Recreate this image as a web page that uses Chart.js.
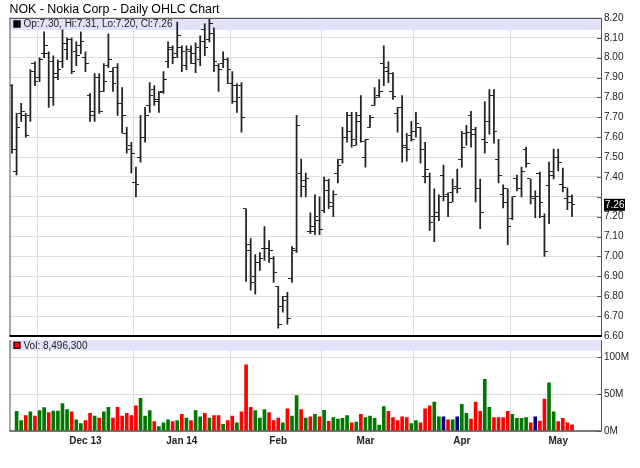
<!DOCTYPE html>
<html><head><meta charset="utf-8">
<script src="https://cdn.jsdelivr.net/npm/chart.js@4.4.1/dist/chart.umd.min.js"></script>
<style>
html,body{margin:0;padding:0;background:#fff;}
#wrap{position:relative;width:640px;height:468px;overflow:hidden;}
#pc{position:absolute;left:0;top:0;}
#vc{position:absolute;left:0;top:340px;}
</style></head><body>
<div id="wrap"><canvas id="pc" width="640" height="340"></canvas><canvas id="vc" width="640" height="128"></canvas></div>
<script>
// ---- data (trading days, Nov 7 2013 .. May 6 2014) ----
const opens  = [7.86,7.43,7.72,7.71,7.71,7.97,7.90,8.02,8.02,7.98,7.92,7.98,8.04,8.09,8.03,8.06,8.00,7.81,7.71,7.90,7.83,7.96,7.93,7.95,7.77,7.62,7.56,7.37,7.50,7.60,7.76,7.84,
  7.78,7.83,7.98,8.04,8.02,8.05,7.96,8.03,7.97,7.99,8.14,8.09,8.12,7.96,7.97,7.99,7.87,7.86,7.86,7.24,7.06,6.90,6.97,7.04,7.04,6.99,6.85,6.75,6.80,6.89,7.03,7.42,
  7.35,7.125,7.125,7.18,7.23,7.38,7.25,7.42,7.49,7.60,7.71,7.56,7.71,7.50,7.65,7.76,7.81,7.97,7.93,7.83,7.72,7.75,7.55,7.61,7.63,7.65,7.40,7.40,7.20,7.20,7.41,7.31,
  7.32,7.35,7.49,7.62,7.71,7.64,7.34,7.59,7.68,7.81,7.49,7.31,7.27,7.19,7.39,7.34,7.54,7.39,7.29,7.42,7.20,7.355,7.41,7.50,7.36,7.29,7.30];
const highs  = [7.865,7.72,7.77,7.72,7.94,7.98,8.00,8.13,8.03,8.01,7.99,8.14,8.10,8.10,8.08,8.13,8.03,7.82,7.92,7.92,7.97,8.12,7.95,7.97,7.85,7.65,7.575,7.45,7.71,7.75,7.875,7.86,
  7.83,7.93,8.08,8.06,8.18,8.06,8.06,8.06,8.075,8.11,8.17,8.20,8.15,7.97,8.03,8.00,7.93,7.87,7.875,7.24,7.09,7.01,7.02,7.15,7.08,7.00,6.85,6.80,6.82,7.05,7.71,7.49,
  7.42,7.22,7.31,7.30,7.40,7.39,7.33,7.49,7.65,7.725,7.725,7.725,7.81,7.59,7.71,7.85,7.89,8.06,7.98,7.925,7.75,7.81,7.62,7.68,7.725,7.65,7.575,7.42,7.34,7.31,7.46,7.32,
  7.39,7.44,7.63,7.66,7.73,7.65,7.39,7.78,7.84,7.84,7.59,7.36,7.34,7.30,7.41,7.45,7.55,7.39,7.33,7.425,7.215,7.475,7.54,7.54,7.445,7.345,7.31];
const lows   = [7.52,7.41,7.68,7.60,7.68,7.86,7.88,8.00,7.75,7.76,7.89,7.95,7.99,7.92,7.96,8.02,7.93,7.68,7.68,7.72,7.83,7.95,7.83,7.71,7.62,7.52,7.42,7.30,7.475,7.575,7.725,7.76,
  7.725,7.82,7.95,7.97,8.00,7.93,7.94,7.97,7.925,7.96,8.01,8.08,7.93,7.83,7.95,7.87,7.77,7.725,7.625,6.875,6.83,6.81,6.93,6.98,6.97,6.87,6.64,6.72,6.66,6.87,7.02,7.30,
  7.30,7.115,7.11,7.11,7.22,7.24,7.20,7.37,7.47,7.575,7.55,7.56,7.575,7.45,7.65,7.76,7.80,7.86,7.875,7.79,7.625,7.475,7.48,7.58,7.60,7.47,7.37,7.13,7.075,7.18,7.28,7.20,
  7.275,7.32,7.45,7.56,7.55,7.275,7.14,7.52,7.615,7.57,7.37,7.245,7.06,7.185,7.33,7.30,7.45,7.265,7.195,7.195,7.00,7.165,7.39,7.43,7.325,7.235,7.20];
const closes = [7.54,7.65,7.73,7.61,7.93,7.88,7.99,8.06,7.80,7.90,7.94,8.07,8.09,7.93,8.01,8.08,7.97,7.73,7.90,7.73,7.88,7.99,7.87,7.77,7.71,7.54,7.52,7.36,7.60,7.71,7.81,7.79,
  7.825,7.89,8.05,8.00,8.11,8.03,8.04,8.02,8.05,8.08,8.05,8.17,7.98,7.94,7.99,7.94,7.78,7.80,7.70,7.03,6.87,6.97,6.99,7.04,7.03,6.92,6.66,6.78,6.69,7.04,7.66,7.38,
  7.39,7.15,7.20,7.135,7.33,7.27,7.31,7.46,7.60,7.63,7.59,7.68,7.58,7.59,7.70,7.80,7.83,7.95,7.92,7.805,7.75,7.56,7.54,7.59,7.67,7.54,7.44,7.17,7.22,7.30,7.30,7.27,
  7.34,7.34,7.55,7.625,7.615,7.34,7.22,7.575,7.81,7.63,7.41,7.34,7.15,7.30,7.34,7.43,7.47,7.30,7.30,7.27,7.025,7.43,7.50,7.475,7.345,7.27,7.26];
// volume in millions of shares
const volumes = [null,26.6,14,21,26,20,27.5,31.5,25,27,27,37,29,26,15,10,14,24,20,17.5,26,32,17.5,32,20,24,21,34,44,20,27.5,12.6,
  6,11,15,12.6,14,22.5,17.5,14,27.5,19,24,17.5,21,21,9,14,20,11,26,89.6,32,27.5,17.5,29,25,14,17.5,11,30,20,48,29,
  17.5,19,22.5,19,28,13,18,16,17,21,11,12,22.5,18,20,17,8,33,26.5,18,14,19,18,10,14,11,30,34,39,19,19,15,
  15,19,36,24,16,39,26.5,70,32,18,18,18,26.5,22.5,17,17,18,11,19,13.5,43,65,26,12.6,17,11,8.4963];
// x-axis month ticks (bar index of first trading day) and labels
const monthTicks  = [16, 37, 58, 77, 98, 119];
const monthLabels = ['Dec 13', 'Jan 14', 'Feb', 'Mar', 'Apr', 'May'];
const priceTicks  = [6.6,6.7,6.8,6.9,7.0,7.1,7.2,7.3,7.4,7.5,7.6,7.7,7.8,7.9,8.0,8.1,8.2];
const volTicks    = [0, 50, 100];
const titleText   = 'NOK - Nokia Corp - Daily OHLC Chart';

// ---- styles ----
const FONT = "'Liberation Sans', Arial, Helvetica, sans-serif";
const BAND = '#e2e2fa';
const GRID = '#dddddd';
const AXIS = '#555555';
const GREEN = '#007800', RED = '#ff0000', BLUE = '#000080';
const XMIN = -0.545, XMAX = 128.32;

const idx = closes.map((_, i) => i);
const last = closes.length - 1;
const f2 = v => v.toFixed(2);
const volColors = idx.map(i => {
  if (i === 0) return RED;
  const d = Math.round(closes[i] * 1000) - Math.round(closes[i - 1] * 1000);
  return d > 0 ? GREEN : (d < 0 ? RED : BLUE);
});

function tickImg(side) {
  const c = document.createElement('canvas');
  c.width = 7; c.height = 1;
  const g = c.getContext('2d');
  g.fillStyle = '#222';
  if (side === 'L') g.fillRect(0, 0, 3, 1); else g.fillRect(4, 0, 3, 1);
  return c;
}

const panelPlugin = {
  id: 'panel',
  beforeDatasetsDraw(chart, args, o) {
    const a = chart.chartArea, ctx = chart.ctx;
    ctx.save();
    ctx.fillStyle = BAND;
    ctx.fillRect(a.left, a.top, a.right - a.left, o.bandH);
    ctx.restore();
  },
  afterDatasetsDraw(chart, args, o) {
    const a = chart.chartArea, ctx = chart.ctx;
    ctx.save();
    const cy = a.top + o.bandH / 2;
    ctx.fillStyle = o.marker;
    ctx.fillRect(a.left + 4, cy - 3.5, 7, 7);
    ctx.strokeStyle = '#000'; ctx.lineWidth = 1;
    ctx.strokeRect(a.left + 4.5, cy - 3, 6, 6);
    ctx.fillStyle = '#222';
    ctx.font = '10px ' + FONT;
    ctx.textBaseline = 'middle';
    ctx.textAlign = 'left';
    ctx.fillText(o.text, a.left + 14, cy + 0.5);
    // frame
    ctx.strokeStyle = AXIS; ctx.lineWidth = 1;
    ctx.beginPath();
    ctx.moveTo(a.left + 0.5, a.top); ctx.lineTo(a.left + 0.5, a.bottom);
    ctx.moveTo(a.right + 0.5, a.top); ctx.lineTo(a.right + 0.5, a.bottom);
    if (o.topLine) { ctx.moveTo(a.left, a.top + 0.5); ctx.lineTo(a.right, a.top + 0.5); }
    const ys = chart.scales.y;
    ys.ticks.forEach(t => {
      const py = Math.round(ys.getPixelForValue(t.value)) + 0.5;
      ctx.moveTo(a.right - 4, py); ctx.lineTo(a.right, py);
    });
    ctx.stroke();
    ctx.fillStyle = o.bottomColor;
    ctx.fillRect(a.left, a.bottom - o.bottomW / 2, a.right - a.left + 1, o.bottomW);
    if (o.lastBox) {
      const py = ys.getPixelForValue(closes[last]);
      ctx.fillStyle = '#000';
      ctx.fillRect(a.right + 3, py - 6, 21, 12);
      ctx.fillStyle = '#fff';
      ctx.font = '10px ' + FONT;
      ctx.fillText(f2(closes[last]), a.right + 4, py + 0.5);
    }
    ctx.restore();
  }
};

const xBase = {
  type: 'linear', min: XMIN, max: XMAX, offset: false,
  afterBuildTicks: s => { s.ticks = monthTicks.map(v => ({ value: v })); },
  grid: { color: GRID, drawTicks: false, lineWidth: 1 },
  border: { display: false }
};

new Chart(document.getElementById('pc'), {
  type: 'bar',
  data: { datasets: [
    { type: 'bar', data: idx.map(i => ({ x: i, y: [lows[i], highs[i]] })), backgroundColor: '#222', barThickness: 1.1, order: 2 },
    { type: 'line', showLine: false, data: idx.map(i => ({ x: i, y: opens[i] })), pointStyle: tickImg('L'), pointRadius: 3, pointHoverRadius: 3, order: 1 },
    { type: 'line', showLine: false, data: idx.map(i => ({ x: i, y: closes[i] })), pointStyle: tickImg('R'), pointRadius: 3, pointHoverRadius: 3, order: 1 }
  ]},
  options: {
    responsive: false, animation: false, devicePixelRatio: 1, events: [],
    layout: { padding: { left: 9.5, right: 0, top: 0, bottom: 2 } },
    plugins: {
      legend: { display: false }, tooltip: { enabled: false },
      title: { display: true, text: titleText, align: 'start', color: '#000',
               font: { family: FONT, size: 12.4, weight: 'normal' }, padding: { top: 2, bottom: 1.1 } },
      panel: { bandH: 12, marker: '#000', topLine: true, bottomColor: '#000', bottomW: 2, lastBox: true,
               text: `Op:${f2(opens[last])}, Hi:${f2(highs[last])}, Lo:${f2(lows[last])}, Cl:${f2(closes[last])}` }
    },
    scales: {
      x: Object.assign({}, xBase, {
        ticks: { display: false },
        afterFit: s => { s.height = 0; s.paddingLeft = 0; s.paddingRight = 0; }
      }),
      y: {
        position: 'right', min: 6.6, max: 8.2,
        afterBuildTicks: s => { s.ticks = priceTicks.map(v => ({ value: v })); },
        ticks: { color: '#222', padding: 3, font: { family: FONT, size: 10 },
                 callback: v => (Math.abs(v - closes[last]) < 0.045 ? '' : v.toFixed(2)) },
        grid: { color: GRID, drawTicks: false },
        border: { display: false },
        afterFit: s => { s.width = 39; s.paddingTop = 0; s.paddingBottom = 0; }
      }
    }
  },
  plugins: [panelPlugin]
});

new Chart(document.getElementById('vc'), {
  type: 'bar',
  data: { datasets: [
    { data: idx.map(i => ({ x: i, y: volumes[i] })), backgroundColor: volColors, barThickness: 3 }
  ]},
  options: {
    responsive: false, animation: false, devicePixelRatio: 1, events: [],
    layout: { padding: { left: 9.5, right: 0, top: 0, bottom: 0 } },
    plugins: {
      legend: { display: false }, tooltip: { enabled: false },
      panel: { bandH: 10.5, marker: RED, topLine: false, bottomColor: AXIS, bottomW: 1.5, lastBox: false,
               text: 'Vol: ' + Math.round(volumes[last] * 1e6).toLocaleString('en-US') }
    },
    scales: {
      x: Object.assign({}, xBase, {
        ticks: { display: true, color: '#222', padding: 4, autoSkip: false, maxRotation: 0,
                 font: { family: FONT, size: 10, weight: 'bold' },
                 callback: v => monthLabels[monthTicks.indexOf(v)] },
        afterFit: s => { s.height = 37; s.paddingLeft = 0; s.paddingRight = 0; }
      }),
      y: {
        position: 'right', min: 0, max: 123,
        afterBuildTicks: s => { s.ticks = volTicks.map(v => ({ value: v })); },
        ticks: { color: '#222', padding: 3, font: { family: FONT, size: 10 }, callback: v => v + 'M' },
        grid: { color: GRID, drawTicks: false },
        border: { display: false },
        afterFit: s => { s.width = 39; s.paddingTop = 0; s.paddingBottom = 0; }
      }
    }
  },
  plugins: [panelPlugin]
});
</script>
</body></html>
